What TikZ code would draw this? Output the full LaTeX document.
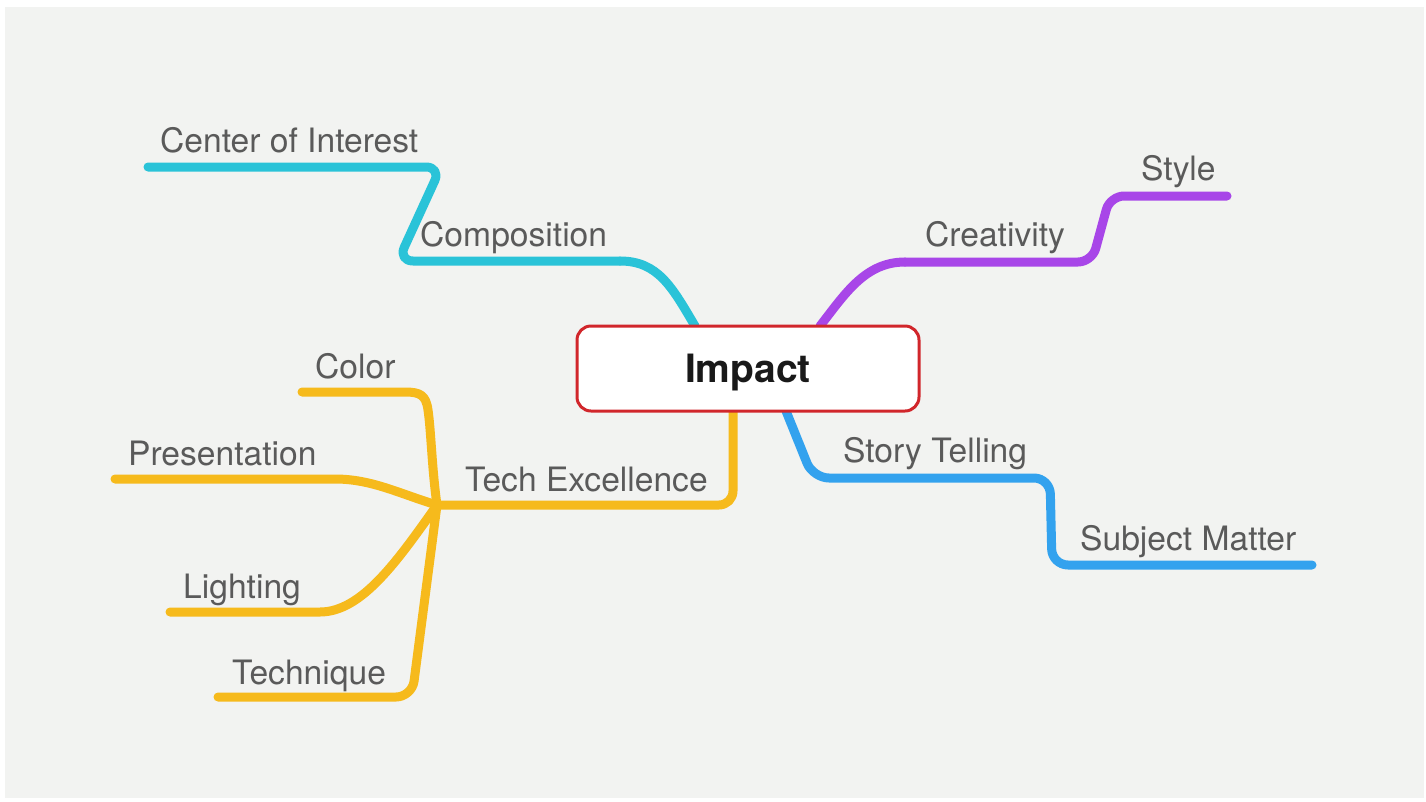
\documentclass[tikz,border=0pt]{standalone}
\usepackage{fontspec}
\setmainfont{TeX Gyre Heros}
\usetikzlibrary{backgrounds}
\definecolor{bg}{HTML}{F2F3F1}
\definecolor{txt}{HTML}{5A5A5A}
\definecolor{ccyan}{HTML}{2AC3D8}
\definecolor{cpurple}{HTML}{A846E8}
\definecolor{cyellow}{HTML}{F6BA1C}
\definecolor{cblue}{HTML}{33A2EE}
\definecolor{cred}{HTML}{D1262B}
\tikzset{
  lbl/.style={anchor=base west, inner sep=0pt, text=txt, font=\fontsize{33.6}{36}\selectfont},
  branch/.style={line width=9pt, line cap=round, line join=round},
  centerbox/.style={draw=cred, line width=3pt, fill=white, rounded corners=14pt,
    minimum width=342pt, minimum height=85pt, inner sep=0pt,
    text height=36pt, text depth=8pt,
    font=\bfseries\fontsize{39}{42}\selectfont, text=black!90},
}
\begin{document}
\begin{tikzpicture}[x=1pt, y=-1pt]
\useasboundingbox (0,0) rectangle (1426,801);

\node[centerbox] (impact) at (748,368.5) {Impact};

% labels
\node[lbl] (coi) at (160,152) {Center of Interest};
\node[lbl] (comp) at (420,246) {Composition};
\node[lbl] (crea) at (925,246) {Creativity};
\node[lbl] (style) at (1141,180) {Style};
\node[lbl] (story) at (843,462) {Story Telling};
\node[lbl] (subj) at (1080,550) {Subject Matter};
\node[lbl] (tech) at (465,491) {Tech Excellence};
\node[lbl] (color) at (315,378) {Color};
\node[lbl] (pres) at (128,465) {Presentation};
\node[lbl] (light) at (183,598) {Lighting};
\node[lbl] (techn) at (232,684) {Technique};

% branch points
\coordinate (cA) at (695,326);
\coordinate (pA) at (820,326);
\coordinate (bA) at (786,411);
\coordinate (yA) at (733,411);
\coordinate (hub) at (437,505);
\coordinate (coiE) at (148,167);
\coordinate (styleE) at (1227,196);
\coordinate (subjE) at (1312,565);
\coordinate (colorE) at (302,392);
\coordinate (presE) at (115,479);
\coordinate (lightE) at (170,612);
\coordinate (technE) at (218,697);

\begin{scope}[on background layer]
\fill[white] (0,0) rectangle (1426,801);
\fill[bg] (5,7) rectangle (1424,798);
% composition (cyan)
\draw[branch, ccyan] (cA) .. controls (672,287) and (658,261) .. (620,261);
\draw[branch, ccyan, rounded corners=15pt] (620,261) -- (398,261) -- (441,167) -- (coiE);
% creativity (purple)
\draw[branch, cpurple] (pA) .. controls (845,294) and (865,262) .. (905,262);
\draw[branch, cpurple, rounded corners=14pt] (905,262) -- (1092,262) -- (1110,196) -- (styleE);
% story telling (blue)
\draw[branch, cblue, rounded corners=16pt] (bA) -- (813,478) -- (1050,478) -- (1052,565) -- (subjE);
% tech excellence (yellow)
\draw[branch, cyellow, rounded corners=14pt] (yA) -- (733,505) -- (hub);
\draw[branch, cyellow] (hub) .. controls (432,470) and (431,430) .. (428,410) .. controls (426,395) and (420,392) .. (405,392) -- (colorE);
\draw[branch, cyellow] (hub) .. controls (400,494) and (372,479) .. (335,479) -- (presE);
\draw[branch, cyellow] (hub) .. controls (398,560) and (362,612) .. (320,612) -- (lightE);
\draw[branch, cyellow, rounded corners=16pt] (hub) -- (412,697) -- (technE);
\end{scope}
\end{tikzpicture}
\end{document}
